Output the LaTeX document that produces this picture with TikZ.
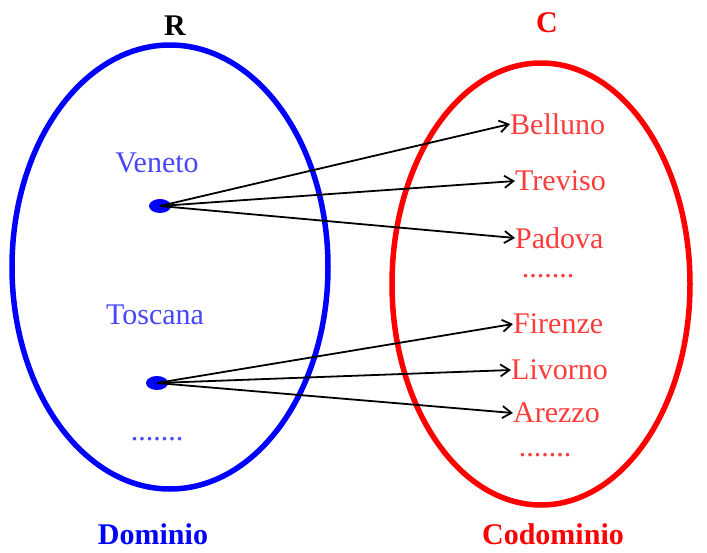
\documentclass[tikz,border=0pt]{standalone}
\usepackage{fontspec}
\setmainfont{Liberation Serif}
\usetikzlibrary{arrows.meta, positioning, shapes.geometric}
\definecolor{dblue}{HTML}{0000FF}
\definecolor{dred}{HTML}{FF0000}
\definecolor{lblue}{HTML}{4646FF}
\definecolor{lred}{HTML}{FF3C3C}

\begin{document}
\begin{tikzpicture}[x=1pt, y=-1pt,
  title/.style={font=\fontsize{30}{32}\selectfont\bfseries},
  elem/.style={font=\fontsize{30}{32}\selectfont, inner sep=0pt},
  dot/.style={ellipse, fill=dblue, minimum width=22pt, minimum height=14pt, inner sep=0pt},
  arr/.style={-{Straight Barb[length=9pt, width=12pt]}, line width=1.8pt},
]
  \useasboundingbox (0,0) rectangle (707,552);

  % insiemi
  \draw[dblue, line width=5.5pt] (170,267) ellipse (158pt and 222pt);
  \draw[dred, line width=5.5pt] (541,284) ellipse (149pt and 221pt);

  % titoli
  \node[title] (r) at (175,26) {R};
  \node[title, dred] (c) at (547,23) {C};
  \node[title, dblue] (dom) at (153,534) {Dominio};
  \node[title, dred] (cod) at (553,534) {Codominio};

  % dominio
  \node[elem, lblue] (veneto) at (157,163) {Veneto};
  \node[elem, lblue] (toscana) at (155,315) {Toscana};
  \node[elem, lblue] (ddots) at (157,439) {.......};
  \node[dot] (v) at (160,206) {};
  \node[dot] (t) at (157,383) {};

  % codominio
  \node[elem, lred, anchor=west] (bel) at (510,124) {Belluno};
  \node[elem, lred, anchor=west] (tre) at (515,181) {Treviso};
  \node[elem, lred, anchor=west] (pad) at (515,238) {Padova};
  \node[elem, lred] (cdots1) at (548,276) {.......};
  \node[elem, lred, anchor=west] (fir) at (513,324) {Firenze};
  \node[elem, lred, anchor=west] (liv) at (511,370) {Livorno};
  \node[elem, lred, anchor=west] (are) at (513,413) {Arezzo};
  \node[elem, lred] (cdots2) at (545,455) {.......};

  \draw[arr] (v.center) -- (bel.west);
  \draw[arr] (v.center) -- (tre.west);
  \draw[arr] (v.center) -- (pad.west);
  \draw[arr] (t.center) -- (fir.west);
  \draw[arr] (t.center) -- (liv.west);
  \draw[arr] (t.center) -- (are.west);
\end{tikzpicture}
\end{document}
